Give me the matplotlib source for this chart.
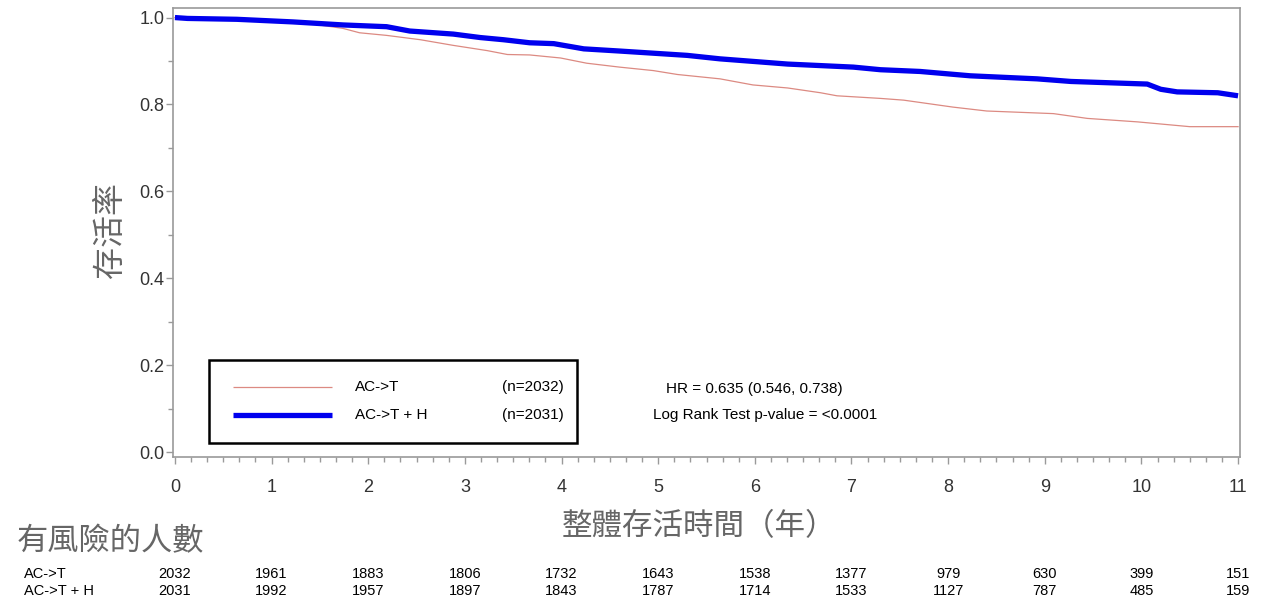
import matplotlib
matplotlib.use("Agg")
import matplotlib.pyplot as plt
from matplotlib.patches import Rectangle
from matplotlib.lines import Line2D
from matplotlib.transforms import blended_transform_factory
from matplotlib.ticker import MultipleLocator, FormatStrFormatter

# ---------------- data ----------------
arm_names = ["AC->T", "AC->T + H"]
arm_n = ["(n=2032)", "(n=2031)"]

t_act = [0, 0.13, 0.64, 1.22, 1.43, 1.74, 1.91, 2.19, 2.54, 2.88, 3.23, 3.44, 3.67,
         3.99, 4.26, 4.6, 4.95, 5.2, 5.64, 5.98, 6.34, 6.68, 6.85, 7.3, 7.54, 8.05,
         8.4, 9.09, 9.44, 9.96, 10.5, 11.0]
s_act = [1.0, 0.998, 0.996, 0.990, 0.985, 0.975, 0.965, 0.959, 0.949, 0.936, 0.924,
         0.915, 0.914, 0.907, 0.895, 0.886, 0.878, 0.869, 0.859, 0.845, 0.838, 0.827,
         0.820, 0.814, 0.810, 0.794, 0.785, 0.779, 0.768, 0.760, 0.749, 0.749]

t_acth = [0, 0.13, 0.64, 1.22, 1.74, 2.19, 2.43, 2.88, 3.16, 3.4, 3.67, 3.92, 4.23,
          4.6, 5.3, 5.64, 6.34, 7.02, 7.3, 7.71, 8.23, 8.92, 9.27, 10.06, 10.2, 10.37,
          10.79, 11.0]
s_acth = [1.0, 0.998, 0.996, 0.990, 0.983, 0.979, 0.969, 0.962, 0.954, 0.949, 0.942,
          0.940, 0.928, 0.923, 0.913, 0.905, 0.893, 0.886, 0.880, 0.876, 0.866, 0.859,
          0.853, 0.847, 0.835, 0.829, 0.827, 0.820]

risk_years = list(range(12))
risk_act = [2032, 1961, 1883, 1806, 1732, 1643, 1538, 1377, 979, 630, 399, 151]
risk_acth = [2031, 1992, 1957, 1897, 1843, 1787, 1714, 1533, 1127, 787, 485, 159]

hr_text = "HR = 0.635 (0.546, 0.738)"
p_text = "Log Rank Test p-value = <0.0001"
ylabel = "存活率"
xlabel = "整體存活時間（年）"
risk_title = "有風險的人數"

# ---------------- style ----------------
LAT = ["Liberation Sans", "DejaVu Sans"]
CJK = ["Noto Sans CJK TC", "DejaVu Sans"]
RED = "#dc8a82"
BLUE = "#0000ee"
GRAY = "#9a9a9a"
CJK_COL = "#666666"

W, H = 1262, 602
fig = plt.figure(figsize=(W / 100, H / 100), dpi=100)
fig.patch.set_facecolor("white")


def fx(px):
    return px / W


def fy(py):
    return 1 - py / H


ax = fig.add_axes([fx(173), fy(457), (1240 - 173) / W, (457 - 8) / H])
ax.plot(t_act, s_act, color=RED, lw=0.9, zorder=2)
ax.plot(t_acth, s_acth, color=BLUE, lw=3.8, zorder=3, solid_capstyle="butt")

ax.set_xlim(-0.02, 11.02)
ax.set_ylim(-0.011, 1.022)
ax.xaxis.set_major_locator(MultipleLocator(1))
ax.xaxis.set_minor_locator(MultipleLocator(1 / 6))
ax.yaxis.set_major_locator(MultipleLocator(0.2))
ax.yaxis.set_minor_locator(MultipleLocator(0.1))
ax.yaxis.set_major_formatter(FormatStrFormatter("%.1f"))
for sp in ax.spines.values():
    sp.set_color(GRAY)
    sp.set_linewidth(1.2)
ax.tick_params(which="major", direction="out", length=5, width=1, color=GRAY,
               labelsize=13, labelcolor="#333333")
ax.tick_params(which="minor", direction="out", length=3.5, width=1, color=GRAY)
ax.tick_params(axis="x", which="major", pad=11)
ax.tick_params(axis="y", which="major", pad=1)
for lab in ax.get_xticklabels() + ax.get_yticklabels():
    lab.set_family(LAT)

# axis titles
fig.text(fx(110), fy(230), ylabel, rotation=90, ha="center", va="center",
         fontsize=23, color=CJK_COL, family=CJK, fontweight="light")
fig.text(fx(699), fy(527), xlabel, ha="center", va="center",
         fontsize=22, color=CJK_COL, family=CJK, fontweight="light")
fig.text(fx(17), fy(541), risk_title, ha="left", va="center",
         fontsize=22.5, color=CJK_COL, family=CJK, fontweight="light")

# legend box
ax.add_patch(Rectangle((fx(209), fy(443)), fx(577) - fx(209), fy(360) - fy(443),
                       transform=fig.transFigure, facecolor="white", edgecolor="black",
                       lw=1.8, zorder=5, clip_on=False))
leg_y = [387, 415]
leg_style = [(RED, 0.9), (BLUE, 3.8)]
for i in range(2):
    col, lw = leg_style[i]
    fig.add_artist(Line2D([fx(233), fx(332)], [fy(leg_y[i])] * 2, color=col, lw=lw,
                          transform=fig.transFigure, zorder=6, solid_capstyle="butt"))
    fig.text(fx(355), fy(leg_y[i]), arm_names[i], ha="left", va="center",
             fontsize=11, family=LAT, zorder=6)
    fig.text(fx(564), fy(leg_y[i]), arm_n[i], ha="right", va="center",
             fontsize=11, family=LAT, zorder=6)

fig.text(fx(666), fy(389), hr_text, ha="left", va="center", fontsize=11, family=LAT)
fig.text(fx(653), fy(415), p_text, ha="left", va="center", fontsize=11, family=LAT)

# risk table
trans = blended_transform_factory(ax.transData, fig.transFigure)
row_y = [574, 591]
fig.text(fx(24), fy(row_y[0]), arm_names[0], ha="left", va="center", fontsize=10.5, family=LAT)
fig.text(fx(24), fy(row_y[1]), arm_names[1], ha="left", va="center", fontsize=10.5, family=LAT)
for yr, a, b in zip(risk_years, risk_act, risk_acth):
    ax.text(yr, fy(row_y[0]), str(a), transform=trans, ha="center", va="center",
            fontsize=10.5, family=LAT)
    ax.text(yr, fy(row_y[1]), str(b), transform=trans, ha="center", va="center",
            fontsize=10.5, family=LAT)

fig.savefig("out.png", dpi=100, facecolor="white")
